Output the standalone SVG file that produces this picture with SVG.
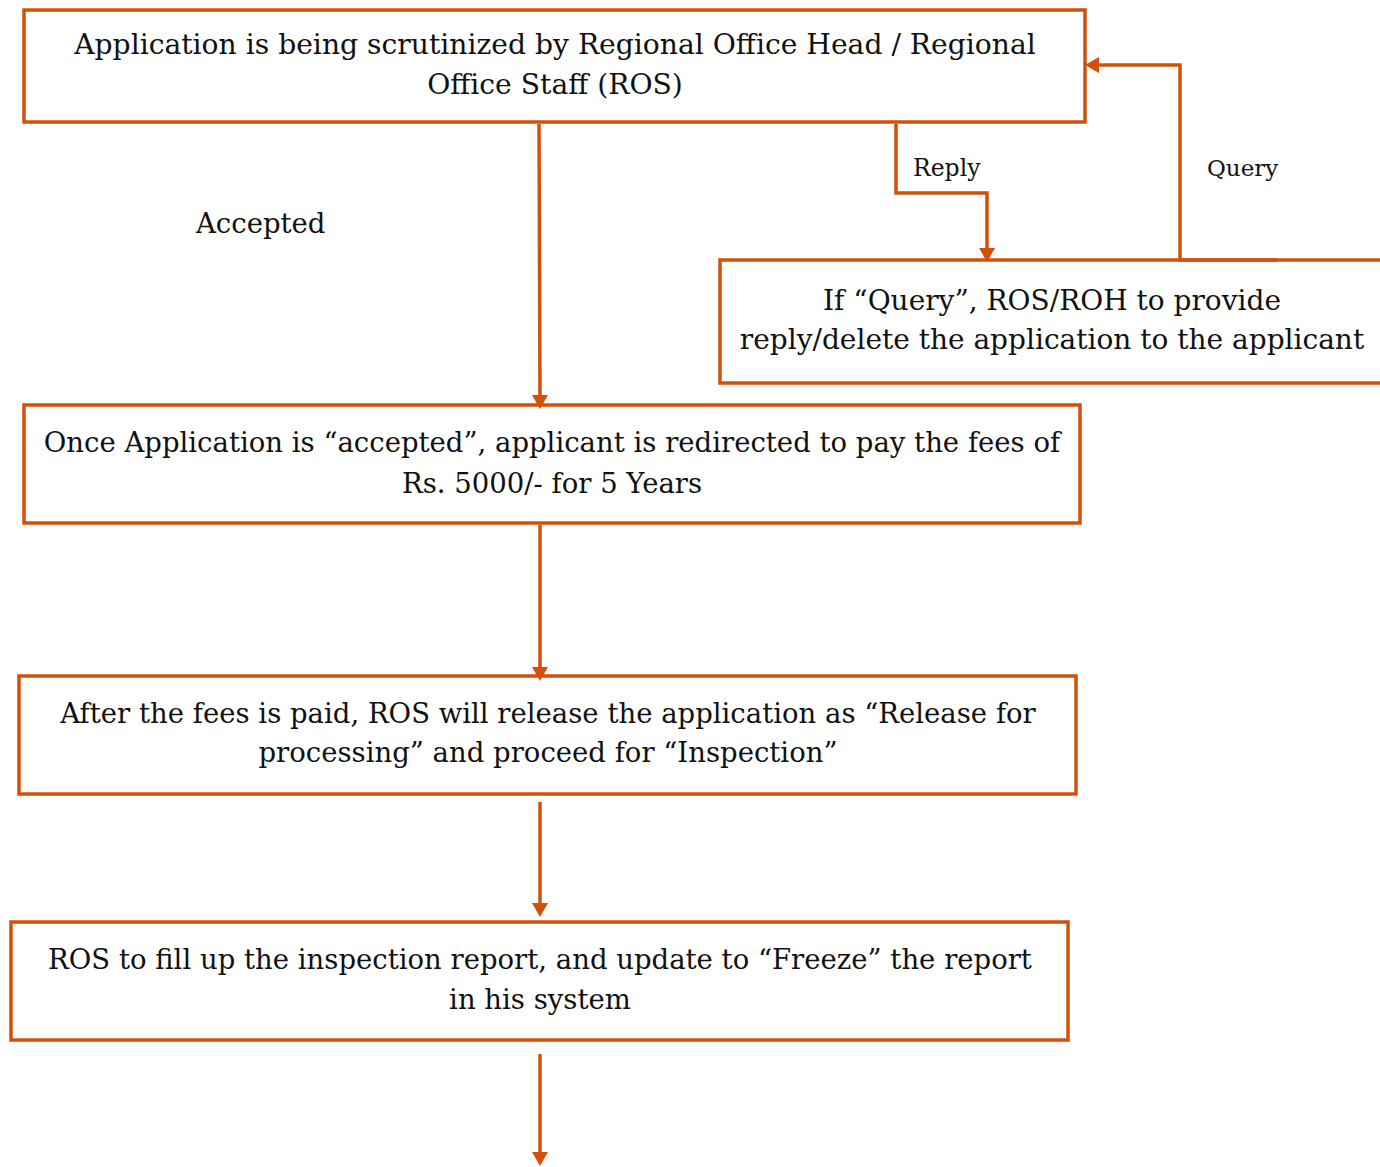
<svg xmlns="http://www.w3.org/2000/svg" width="1380" height="1167" viewBox="0 0 1380 1167">
<defs>
<style>
.box{fill:#fff;stroke:#D4500A;stroke-width:3.5}
.ln{fill:none;stroke:#D4500A;stroke-width:3.5}
.ah{fill:#D4500A}
.t{font-family:"DejaVu Serif","Liberation Serif",serif;font-size:27.5px;fill:#111;text-anchor:middle}
.l{font-family:"DejaVu Serif","Liberation Serif",serif;font-size:23px;fill:#111}
</style>
</defs>
<g id="label-accepted"><text class="l" x="196" y="233" style="font-size:27.5px">Accepted</text></g>
<g id="label-reply"><text class="l" x="913" y="176" style="font-size:23.5px">Reply</text></g>
<g id="label-query"><text class="l" x="1207" y="176">Query</text></g>
<g id="node1">
<rect class="box" x="24" y="10" width="1061" height="112"/>
<text class="t" x="555" y="54" style="font-size:28.2px">Application is being scrutinized by Regional Office Head / Regional</text>
<text class="t" x="555" y="94" style="font-size:28.2px">Office Staff (ROS)</text>
</g>
<g id="node2">
<path class="box" d="M1382,260 L720,260 L720,383 L1382,383"/>
<text class="t" x="1052" y="310" style="font-size:28px">If “Query”, ROS/ROH to provide</text>
<text class="t" x="1052" y="349" style="font-size:28px">reply/delete the application to the applicant</text>
</g>
<g id="node3">
<rect class="box" x="24" y="405" width="1056" height="118"/>
<text class="t" x="552" y="452">Once Application is “accepted”, applicant is redirected to pay the fees of</text>
<text class="t" x="552" y="493">Rs. 5000/- for 5 Years</text>
</g>
<g id="node4">
<rect class="box" x="19" y="676" width="1057" height="118"/>
<text class="t" x="548" y="723">After the fees is paid, ROS will release the application as “Release for</text>
<text class="t" x="548" y="762">processing” and proceed for “Inspection”</text>
</g>
<g id="node5">
<rect class="box" x="11" y="922" width="1057" height="118"/>
<text class="t" x="540" y="969">ROS to fill up the inspection report, and update to “Freeze” the report</text>
<text class="t" x="540" y="1009">in his system</text>
</g>
<g id="connectors">
<path class="ln" d="M539,124 L540,396"/>
<path class="ah" d="M532,395 L548,395 L540,409 Z"/>
<path class="ln" d="M896,124 L896,193 L987,193 L987,250"/>
<path class="ah" d="M979,248 L995,248 L987,262 Z"/>
<path class="ln" d="M1277,260 L1180,260 L1180,65 L1098,65"/>
<path class="ah" d="M1085,65 L1099,57 L1099,73 Z"/>
<path class="ln" d="M540,525 L540,669"/>
<path class="ah" d="M532,667 L548,667 L540,681 Z"/>
<path class="ln" d="M540,802 L540,905"/>
<path class="ah" d="M532,903 L548,903 L540,917 Z"/>
<path class="ln" d="M540,1054 L540,1155"/>
<path class="ah" d="M532,1152 L548,1152 L540,1166 Z"/>
</g>
</svg>
